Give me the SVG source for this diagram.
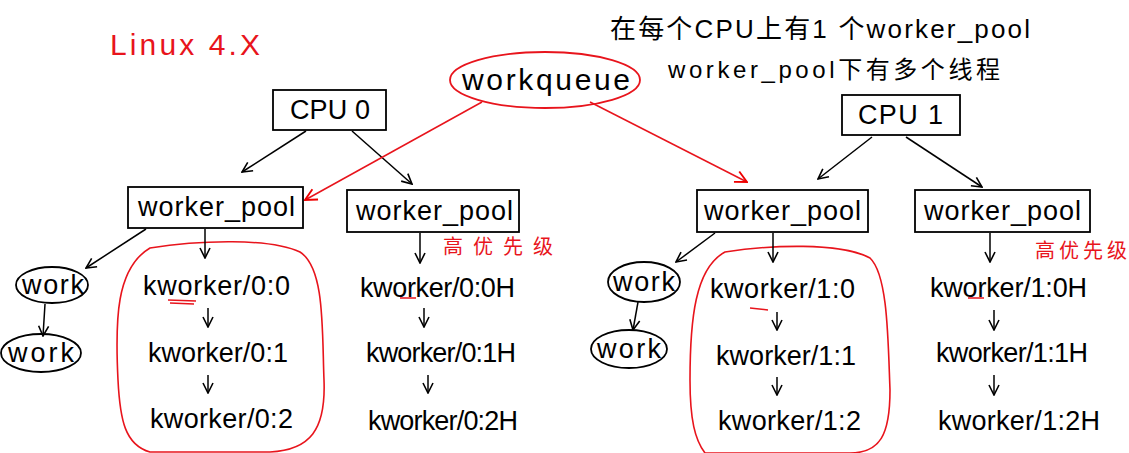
<svg xmlns="http://www.w3.org/2000/svg" width="1129" height="453" viewBox="0 0 1129 453">
<defs>
<marker id="ab" viewBox="0 0 12 12" refX="11" refY="6" markerWidth="12" markerHeight="12" markerUnits="userSpaceOnUse" orient="auto"><path d="M1,1 L11,6 L1,11" fill="none" stroke="#000" stroke-width="1.6"/></marker>
<marker id="ar" viewBox="0 0 12 12" refX="11" refY="6" markerWidth="14" markerHeight="14" markerUnits="userSpaceOnUse" orient="auto"><path d="M1,1 L11,6 L1,11" fill="none" stroke="#e00" stroke-width="1.6"/></marker>
</defs>
<style>
text{font-family:"Liberation Sans","Noto Sans CJK SC",sans-serif;fill:#000}
.t{font-size:27px}
.red{fill:#e8141c}
.box{fill:#fff;stroke:#000;stroke-width:1.8}
.ell{fill:none;stroke:#000;stroke-width:1.8}
.c{stroke:#000;stroke-width:1.5;fill:none;marker-end:url(#ab)}
.cr{stroke:#e8141c;stroke-width:1.5;fill:none;marker-end:url(#ar)}
.encl{fill:none;stroke:#e8141c;stroke-width:1.6}
</style>
<rect width="1129" height="453" fill="#fff"/>
<g id="title"><text class="red" x="110" y="55" font-size="30" textLength="150">Linux 4.X</text></g>
<g id="note"><text x="610" y="38" font-size="26" textLength="420">在每个CPU上有1 个worker_pool</text>
<text x="668" y="78" font-size="24" textLength="332">worker_pool下有多个线程</text></g>
<g id="workqueue"><ellipse cx="545" cy="80" rx="95" ry="28" fill="none" stroke="#e8141c" stroke-width="1.8"/><text x="462" y="90" font-size="30" textLength="168">workqueue</text></g>
<g id="cpu0"><rect class="box" x="273" y="90" width="113" height="40"/><text class="t" x="290" y="119" textLength="80">CPU 0</text></g>
<g id="cpu1"><rect class="box" x="842" y="95" width="118" height="40"/><text class="t" x="858" y="124" textLength="85">CPU 1</text></g>
<g id="pool0"><rect class="box" x="128" y="187" width="175" height="41"/><text class="t" x="138" y="216" textLength="157">worker_pool</text></g>
<g id="pool0h"><rect class="box" x="347" y="190" width="172" height="42"/><text class="t" x="356" y="220" textLength="157">worker_pool</text></g>
<g id="pool1"><rect class="box" x="697" y="190" width="171" height="42"/><text class="t" x="704" y="220" textLength="157">worker_pool</text></g>
<g id="pool1h"><rect class="box" x="915" y="190" width="175" height="42"/><text class="t" x="924" y="220" textLength="157">worker_pool</text></g>
<g id="hp0"><text class="red" x="443" y="254" font-size="20" textLength="110">高优先级</text></g>
<g id="hp1"><text class="red" x="1035" y="258" font-size="20" textLength="92">高优先级</text></g>
<g id="work0a"><ellipse class="ell" cx="52" cy="285" rx="36" ry="18"/><text class="t" x="22" y="294" font-size="24" textLength="62">work</text></g>
<g id="work0b"><ellipse class="ell" cx="41" cy="353" rx="40" ry="19"/><text class="t" x="8" y="362" font-size="24" textLength="66">work</text></g>
<g id="work1a"><ellipse class="ell" cx="644" cy="282" rx="36" ry="20"/><text class="t" x="613" y="291" font-size="24" textLength="62">work</text></g>
<g id="work1b"><ellipse class="ell" cx="629" cy="349" rx="38" ry="19"/><text class="t" x="597" y="358" font-size="24" textLength="64">work</text></g>
<g id="k00"><text class="t" x="143" y="295" textLength="147">kworker/0:0</text></g>
<g id="k01"><text class="t" x="148" y="362" textLength="140">kworker/0:1</text></g>
<g id="k02"><text class="t" x="150" y="428" textLength="143">kworker/0:2</text></g>
<g id="k00h"><text class="t" x="360" y="297" textLength="155">kworker/0:0H</text></g>
<g id="k01h"><text class="t" x="366" y="362" textLength="150">kworker/0:1H</text></g>
<g id="k02h"><text class="t" x="368" y="430" textLength="150">kworker/0:2H</text></g>
<g id="k10"><text class="t" x="710" y="298" textLength="145">kworker/1:0</text></g>
<g id="k11"><text class="t" x="716" y="365" textLength="140">kworker/1:1</text></g>
<g id="k12"><text class="t" x="718" y="430" textLength="143">kworker/1:2</text></g>
<g id="k10h"><text class="t" x="930" y="297" textLength="157">kworker/1:0H</text></g>
<g id="k11h"><text class="t" x="936" y="362" textLength="152">kworker/1:1H</text></g>
<g id="k12h"><text class="t" x="938" y="430" textLength="162">kworker/1:2H</text></g>
<g id="enclosures">
<path class="encl" d="M150,248 C200,240 270,238 300,252 C325,268 322,330 324,380 C326,430 310,450 270,452 L150,452 C125,445 120,420 118,380 C115,320 116,268 150,248 Z"/>
<path class="encl" d="M725,252 C770,245 840,242 870,258 C888,275 888,340 890,390 C890,435 880,453 850,453 L705,453 C695,440 690,420 690,380 C690,320 695,268 725,252 Z"/>
<path d="M168,300 L196,301 M170,303 L194,304" stroke="#e8141c" stroke-width="1.5" fill="none"/>
<path d="M400,298 L416,298" stroke="#e8141c" stroke-width="1.5" fill="none"/>
<path d="M750,308 L768,310" stroke="#e8141c" stroke-width="1.5" fill="none"/>
<path d="M968,298 L984,298" stroke="#e8141c" stroke-width="1.5" fill="none"/>
</g>
<g id="connectors">
<path class="c" d="M306,131 L242,172"/>
<path class="c" d="M352,131 L412,184"/>
<path class="c" d="M872,137 L818,179"/>
<path class="c" d="M906,137 L982,187"/>
<path class="cr" d="M482,102 L305,200"/>
<path class="cr" d="M590,102 L747,182"/>
<path class="c" d="M146,229 L86,268"/>
<path class="c" d="M205,229 L205,258"/>
<path class="c" d="M45,304 L43,336"/>
<path class="c" d="M208,308 L208,327"/>
<path class="c" d="M208,375 L208,393"/>
<path class="c" d="M420,233 L420,263"/>
<path class="c" d="M424,308 L424,327"/>
<path class="c" d="M428,375 L428,393"/>
<path class="c" d="M715,233 L676,262"/>
<path class="c" d="M773,233 L773,262"/>
<path class="c" d="M638,302 L633,330"/>
<path class="c" d="M777,312 L777,330"/>
<path class="c" d="M777,377 L777,395"/>
<path class="c" d="M990,233 L990,262"/>
<path class="c" d="M994,310 L994,330"/>
<path class="c" d="M994,375 L994,395"/>
</g>
</svg>
